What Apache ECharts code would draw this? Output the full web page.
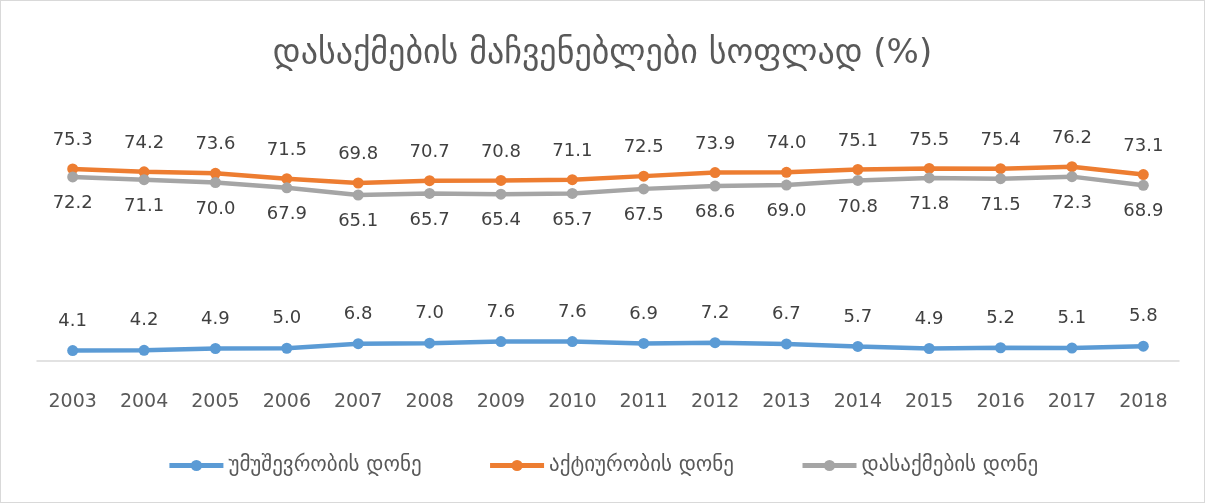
<!DOCTYPE html>
<html><head><meta charset="utf-8">
<script src="https://cdn.jsdelivr.net/npm/echarts@6/dist/echarts.min.js"></script>
<style>html,body{margin:0;padding:0;background:#fff}#c{width:1203px;height:501px;border:1px solid #d9d9d9}</style>
</head><body><div id="c"></div>
<script>
const years = ['2003','2004','2005','2006','2007','2008','2009','2010','2011','2012','2013','2014','2015','2016','2017','2018'];
const unemployment = [4.1,4.2,4.9,5.0,6.8,7.0,7.6,7.6,6.9,7.2,6.7,5.7,4.9,5.2,5.1,5.8];
const activity = [75.3,74.2,73.6,71.5,69.8,70.7,70.8,71.1,72.5,73.9,74.0,75.1,75.5,75.4,76.2,73.1];
const employment = [72.2,71.1,70.0,67.9,65.1,65.7,65.4,65.7,67.5,68.6,69.0,70.8,71.8,71.5,72.3,68.9];
const names = ['უმუშევრობის დონე','აქტიურობის დონე','დასაქმების დონე'];
const title = 'დასაქმების მაჩვენებლები სოფლად (%)';
const font = '"DejaVu Sans", sans-serif';
const chart = echarts.init(document.getElementById('c'));
function mk(name, data, color, pos, dist){
  return {name, type:'line', data, symbol:'circle', symbolSize:11,
    lineStyle:{width:4.5,color}, itemStyle:{color},
    label:{show:true, position:pos, distance:dist, color:'#404040', fontSize:18, fontFamily:font, formatter:p=>p.value.toFixed(1)}};
}
chart.setOption({
  animation:false,
  title:{text:title,left:'center',top:31,textStyle:{color:'#595959',fontSize:34,fontWeight:'normal',fontFamily:font}},
  grid:{left:36,right:25,top:156,bottom:141},
  legend:{bottom:21,left:'center',itemGap:66,itemWidth:54,itemHeight:14,
    lineStyle:{width:5},
    textStyle:{color:'#595959',fontSize:21,fontFamily:font},data:names},
  xAxis:{type:'category',data:years,boundaryGap:true,axisTick:{show:false},axisLine:{lineStyle:{color:'#d9d9d9',width:1.5}},
    axisLabel:{color:'#595959',fontSize:19,fontFamily:font,margin:32}},
  yAxis:{type:'value',min:0,max:80,show:false,splitLine:{show:false}},
  series:[
    mk(names[0],unemployment,'#5B9BD5','top',15),
    mk(names[1],activity,'#ED7D31','top',14),
    mk(names[2],employment,'#A5A5A5','bottom',12)
  ]
});
</script></body></html>
